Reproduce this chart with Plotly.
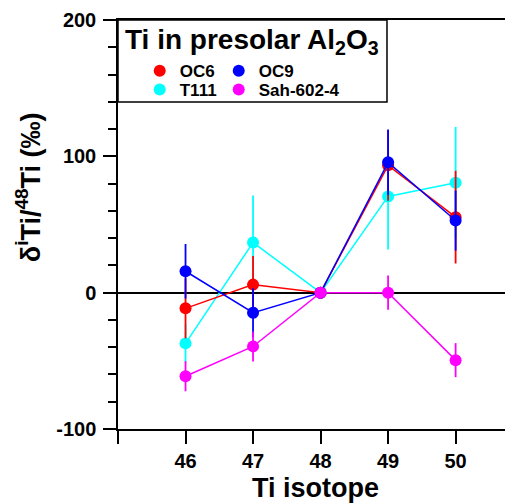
import plotly.graph_objects as go

isotopes = [46, 47, 48, 49, 50]

oc6 = [-11.5, 5.9, 0, 93.4, 55.4]
oc6_err = [22, 21, 0, 26, 34]
oc9 = [15.7, -14.7, 0, 95.6, 52.9]
oc9_err = [20, 18, 0, 24, 22]
t111 = [-37.2, 36.8, 0, 70.6, 80.6]
t111_err = [14, 34.5, 0, 39, 41]
sah = [-61.3, -39.4, 0, 0, -49.5]
sah_err = [11, 11, 0, 12.5, 12.5]

x_tickvals = [45, 46, 47, 48, 49, 50]
x_ticktext = ["", "46", "47", "48", "49", "50"]
y_tickvals = [-100, 0, 100, 200]
y_ticktext = ["-100", "0", "100", "200"]

FONT = "Liberation Sans, Arial, Helvetica, sans-serif"

series = [
    ("T111", t111, t111_err, "#00FFFF"),
    ("OC6", oc6, oc6_err, "#FF0000"),
    ("OC9", oc9, oc9_err, "#0000FF"),
    ("Sah-602-4", sah, sah_err, "#FF00FF"),
]

fig = go.Figure()
for name, vals, errs, color in series:
    fig.add_trace(go.Scatter(
        x=isotopes, y=vals, mode="lines+markers", name=name,
        line=dict(color=color, width=1.5),
        marker=dict(color=color, size=12),
        error_y=dict(type="data", array=errs, visible=True, color=color,
                     thickness=1.8, width=0),
        showlegend=False,
    ))

# legend-only entries (dots only), each in its own legend box for a 2x2 layout
legend_order = [("OC6", "#FF0000", "legend"), ("OC9", "#0000FF", "legend2"),
                ("T111", "#00FFFF", "legend3"), ("Sah-602-4", "#FF00FF", "legend4")]
for name, color, lg in legend_order:
    fig.add_trace(go.Scatter(
        x=[None], y=[None], mode="markers", name=name,
        marker=dict(color=color, size=12), legend=lg, showlegend=True,
    ))

leg_common = dict(
    orientation="h", xanchor="left", yanchor="middle",
    bgcolor="rgba(0,0,0,0)", borderwidth=0,
    font=dict(family=FONT, size=17, color="black", weight="bold"),
    itemclick=False, itemdoubleclick=False,
)

col1, col2 = 0.055, 0.255
row1, row2 = 0.875, 0.829

# page body has an 8px margin: figure occupies page x 8..513, y 8..504
fig.update_layout(
    width=505, height=496,
    margin=dict(l=110, r=0, t=12, b=75),
    paper_bgcolor="white", plot_bgcolor="white",
    font=dict(family=FONT, color="black"),
    legend=dict(x=col1, y=row1, **leg_common),
    legend2=dict(x=col2, y=row1, **leg_common),
    legend3=dict(x=col1, y=row2, **leg_common),
    legend4=dict(x=col2, y=row2, **leg_common),
    xaxis=dict(
        range=[45, 50.85], tickvals=x_tickvals, ticktext=x_ticktext,
        ticks="outside", ticklen=13, tickwidth=1.5, tickcolor="black",
        showline=True, linecolor="black", linewidth=1.5, mirror=True,
        showgrid=False, zeroline=False,
        tickfont=dict(family=FONT, size=20, color="black", weight="bold"),
    ),
    yaxis=dict(
        range=[-100, 200], tickvals=y_tickvals, ticktext=y_ticktext,
        ticks="outside", ticklen=13, tickwidth=1.5, tickcolor="black",
        minor=dict(dtick=20, ticks="outside", ticklen=8, tickwidth=1.5, tickcolor="black"),
        showline=True, linecolor="black", linewidth=1.5,
        showgrid=False, zeroline=True, zerolinecolor="black", zerolinewidth=1.5,
        tickfont=dict(family=FONT, size=20, color="black", weight="bold"),
        ticklabelstandoff=3,
    ),
    shapes=[dict(type="rect", xref="paper", yref="paper",
                 x0=0, x1=0.681, y0=0.7995, y1=1.0,
                 line=dict(color="black", width=1.5), fillcolor="rgba(0,0,0,0)")],
    annotations=[
        dict(text="Ti in presolar Al<sub>2</sub>O<sub>3</sub>", xref="paper", yref="paper",
             x=0.012, y=0.948, xanchor="left", yanchor="middle", showarrow=False,
             font=dict(family=FONT, size=28, color="black", weight="bold")),
        dict(text="Ti isotope", xref="paper", yref="paper",
             x=0.5, y=-0.144, xanchor="center", yanchor="middle", showarrow=False,
             font=dict(family=FONT, size=27, color="black", weight="bold")),
        dict(text="δ<sup>i</sup>Ti/<sup>48</sup>Ti (‰)", xref="paper", yref="paper",
             x=-0.227, y=0.592, xanchor="center", yanchor="middle", showarrow=False,
             textangle=-90,
             font=dict(family=FONT, size=27, color="black", weight="bold")),
    ],
)

fig.write_html("out.html")
